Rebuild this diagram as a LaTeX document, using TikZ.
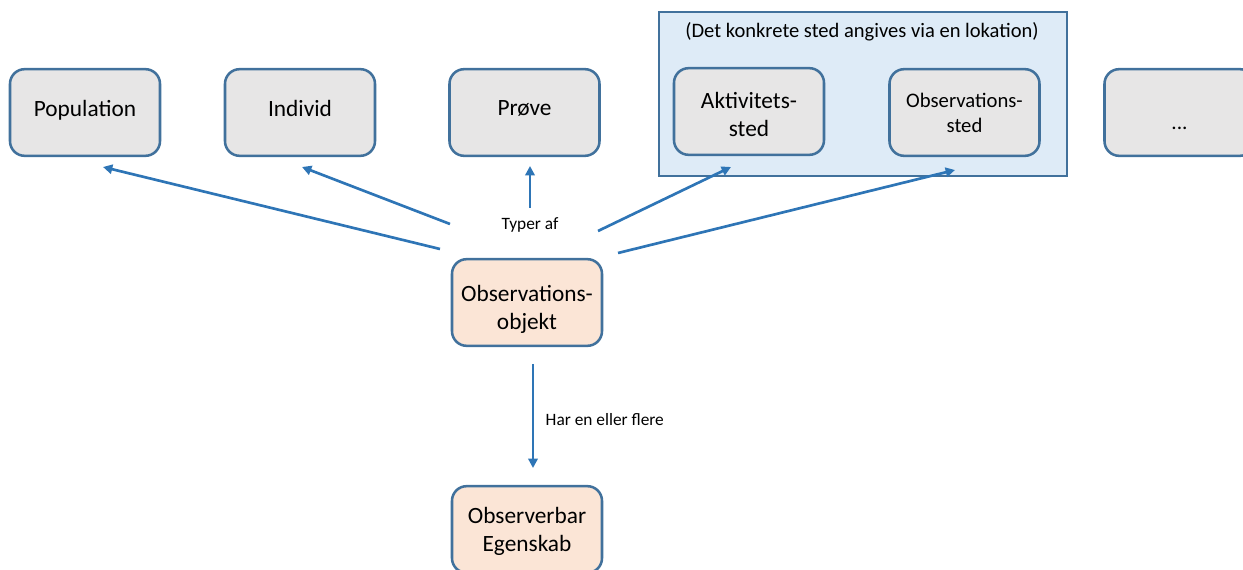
\documentclass[tikz,border=0pt]{standalone}
\usepackage{fontspec}
\setmainfont{Carlito}
\usetikzlibrary{arrows.meta}
\definecolor{boxedge}{HTML}{41719C}
\definecolor{greyfill}{HTML}{E7E6E6}
\definecolor{peachfill}{HTML}{FBE5D6}
\definecolor{groupfill}{HTML}{DEEBF7}
\definecolor{arrowblue}{HTML}{2E75B6}
% centred text block, moved vertically by #1 without changing the box size
\newcommand\boxtext[2]{\raisebox{#1}[0pt][0pt]{\parbox[c]{105pt}{\centering #2}}}
\begin{document}
\begin{tikzpicture}[x=0.75pt,y=-0.75pt,
  entity/.style={draw=boxedge, line width=1.9pt, rounded corners=11pt,
    minimum width=112.5pt, minimum height=65pt, align=center,
    font=\fontsize{17.5}{21}\selectfont, inner sep=0pt},
  kind/.style={entity, fill=greyfill},
  core/.style={entity, fill=peachfill},
  link/.style={draw=arrowblue, line width=2pt,
    -{Triangle[length=7pt,width=7pt]}},
  lbl/.style={font=\fontsize{13}{15}\selectfont}]
\useasboundingbox (0,0) rectangle (1243,570);

% grouping panel for the two place types
\draw[draw=boxedge, fill=groupfill, line width=0.9pt] (659,12) rectangle (1067,176);
\node[lbl, font=\fontsize{15.4}{18}\selectfont] (grouptitle) at (862,32) {(Det konkrete sted angives via en lokation)};

% the kinds of observation object
\node[kind] (population) at (85,112.5) {\boxtext{-2.9pt}{Population}};
\node[kind] (individ) at (300,112.5) {\boxtext{-1.5pt}{Individ}};
\node[kind] (prove) at (524.5,112.5) {\boxtext{-1.5pt}{Prøve}};
\node[kind] (aktivitet) at (749,111.5) {\boxtext{-6.6pt}{Aktivitets-\\sted}};
\node[kind, font=\fontsize{15.5}{19}\selectfont] (obssted) at (964.5,112.5) {\boxtext{-3.9pt}{Observations-\\sted}};
\node[kind, font=\fontsize{16}{18}\selectfont] (more) at (1179.5,112.5) {\raisebox{-12.9pt}[0pt][0pt]{...}};

% the central concept and its property
\node[core] (objekt) at (527,302.5) {\boxtext{-9.6pt}{Observations-\\objekt}};
\node[core] (egenskab) at (527,529.5) {\boxtext{-5.9pt}{Observerbar\\Egenskab}};

% free ends of the connectors
\coordinate (popS) at (440,249);  \coordinate (popE) at (103,167);
\coordinate (indS) at (450,224);  \coordinate (indE) at (302,167);
\coordinate (prvS) at (530,208);  \coordinate (prvE) at (530,166);
\coordinate (aktS) at (598,231);  \coordinate (aktE) at (731,167);
\coordinate (obsS) at (618,253);  \coordinate (obsE) at (955,170);
\coordinate (egnS) at (533,364);  \coordinate (egnE) at (533,468);

\draw[link] (popS) -- (popE);
\draw[link] (indS) -- (indE);
\draw[link] (prvS) -- (prvE);
\draw[link] (aktS) -- (aktE);
\draw[link] (obsS) -- (obsE);
\draw[link] (egnS) -- (egnE);

\node[lbl] (typer) at (530,225) {Typer af};
\node[lbl, anchor=west] (harflere) at (541,420) {Har en eller flere};
\end{tikzpicture}
\end{document}
